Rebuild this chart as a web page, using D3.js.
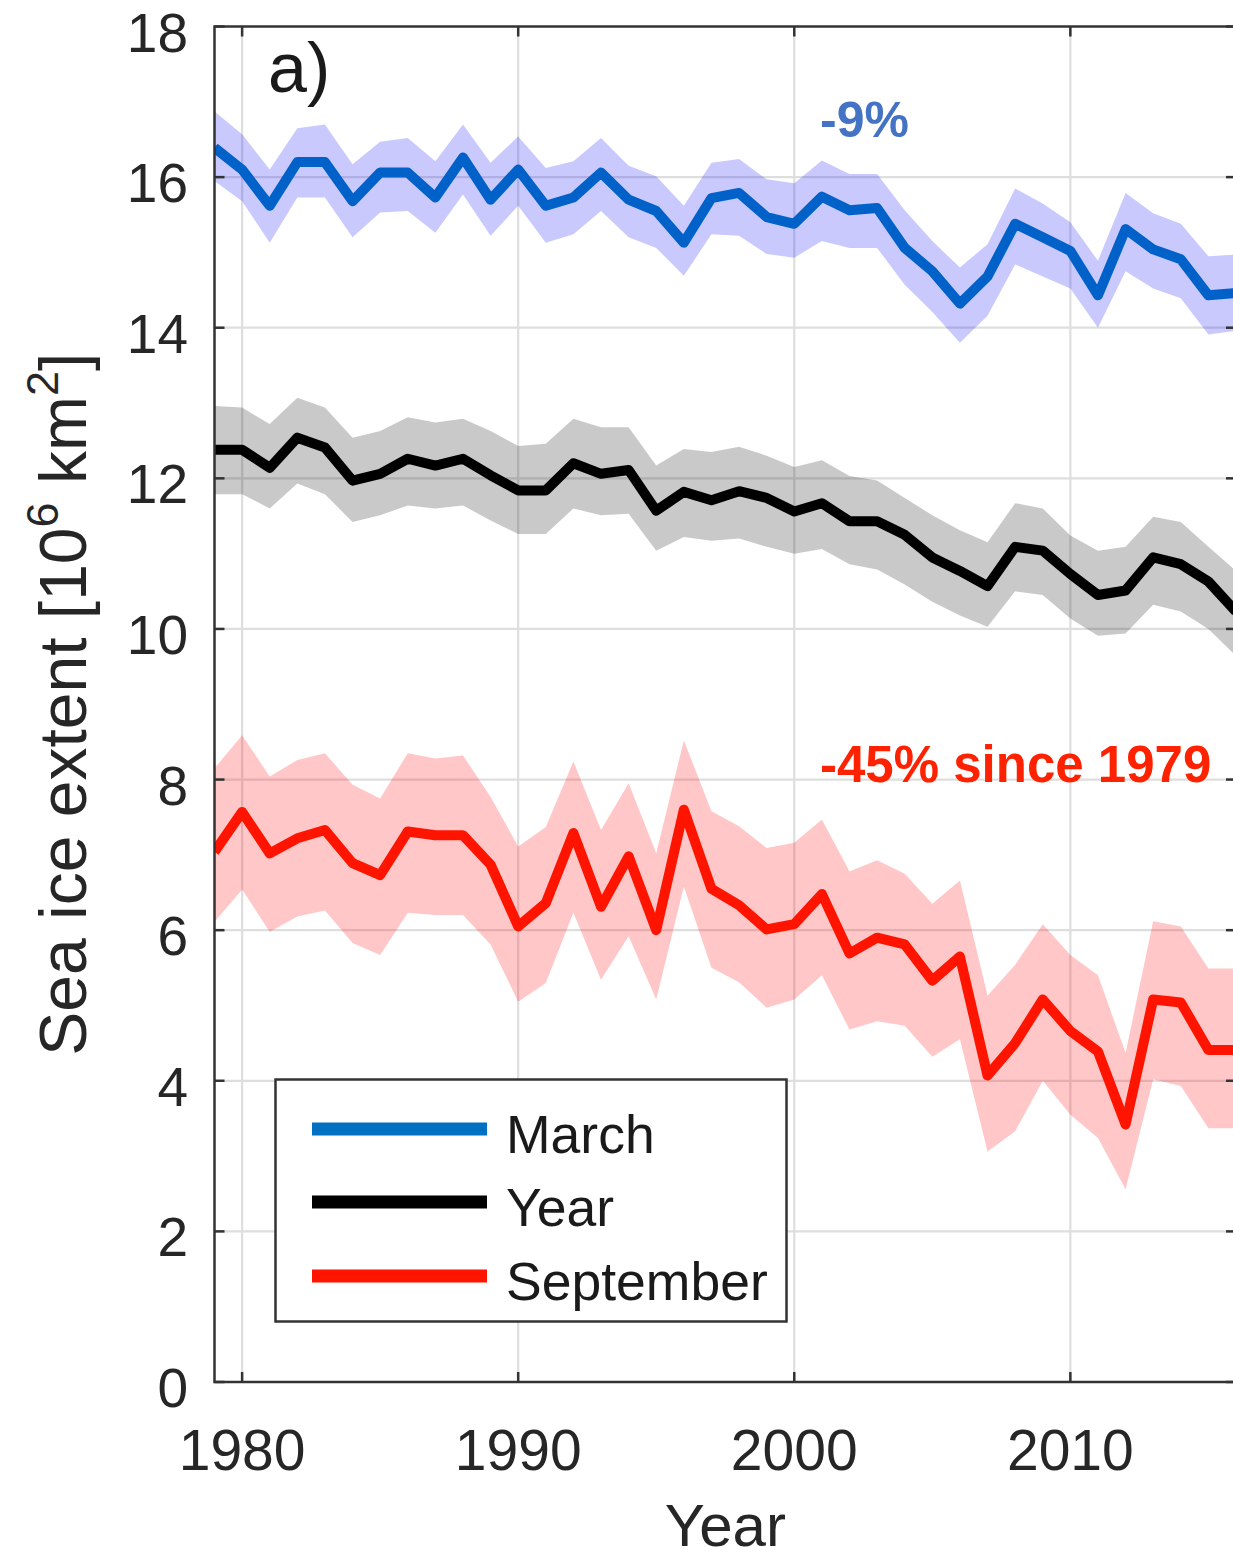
<!DOCTYPE html>
<html>
<head>
<meta charset="utf-8">
<script src="https://cdn.jsdelivr.net/npm/d3@7"></script>
<style>
  html, body { margin: 0; padding: 0; background: #fff; }
  svg { display: block; font-family: "Liberation Sans", Arial, Helvetica, sans-serif; }
</style>
</head>
<body>
<svg id="chart" width="1233" height="1559"></svg>
<script>
// Arctic sea ice extent, 1979-2016 (10^6 km^2), with uncertainty envelopes
const years = [1979,1980,1981,1982,1983,1984,1985,1986,1987,1988,1989,1990,1991,1992,1993,1994,1995,1996,1997,
               1998,1999,2000,2001,2002,2003,2004,2005,2006,2007,2008,2009,2010,2011,2012,2013,2014,2015,2016];

const march   = [16.39,16.10,15.62,16.20,16.20,15.68,16.06,16.06,15.73,16.26,15.70,16.10,15.62,15.73,16.06,15.70,15.55,15.13,15.72,
                 15.79,15.47,15.38,15.74,15.56,15.59,15.06,14.75,14.32,14.68,15.38,15.20,15.02,14.43,15.31,15.04,14.91,14.43,14.46];
const marchHi = [16.87,16.57,16.10,16.65,16.70,16.17,16.47,16.52,16.21,16.70,16.19,16.54,16.12,16.21,16.52,16.15,16.01,15.62,16.19,
                 16.24,15.97,15.92,16.22,16.04,16.04,15.56,15.15,14.80,15.11,15.85,15.65,15.40,14.89,15.79,15.52,15.38,14.95,14.97];
const marchLo = [15.95,15.68,15.13,15.73,15.73,15.20,15.53,15.55,15.26,15.77,15.22,15.62,15.13,15.24,15.55,15.20,15.06,14.69,15.24,
                 15.22,14.98,14.93,15.15,15.06,15.06,14.57,14.21,13.80,14.16,14.84,14.68,14.52,14.00,14.75,14.52,14.39,13.91,13.96];

const annual   = [12.38,12.38,12.14,12.54,12.41,11.97,12.06,12.26,12.17,12.26,12.04,11.84,11.84,12.20,12.06,12.11,11.57,11.82,11.71,
                  11.83,11.74,11.56,11.67,11.43,11.43,11.25,10.95,10.77,10.57,11.09,11.04,10.73,10.45,10.51,10.95,10.86,10.63,10.23];
const annualHi = [12.96,12.94,12.72,13.07,12.94,12.54,12.63,12.81,12.74,12.79,12.63,12.43,12.46,12.79,12.68,12.68,12.17,12.39,12.35,
                  12.42,12.30,12.15,12.24,12.03,11.97,11.74,11.51,11.31,11.15,11.67,11.60,11.24,11.04,11.09,11.49,11.42,11.09,10.77];
const annualLo = [11.79,11.79,11.60,11.93,11.79,11.42,11.51,11.64,11.60,11.64,11.44,11.26,11.26,11.60,11.51,11.53,11.04,11.22,11.17,
                  11.20,11.09,11.00,11.06,10.86,10.79,10.59,10.36,10.18,10.03,10.50,10.45,10.14,9.91,9.94,10.32,10.23,10.00,9.64];

const september   = [7.04,7.57,7.02,7.22,7.33,6.89,6.73,7.31,7.26,7.26,6.87,6.05,6.36,7.29,6.31,6.98,6.00,7.60,6.55,
                     6.33,6.01,6.08,6.48,5.69,5.90,5.81,5.33,5.65,4.07,4.50,5.08,4.66,4.39,3.42,5.08,5.04,4.41,4.41];
const septemberHi = [8.15,8.59,8.04,8.26,8.35,7.93,7.75,8.35,8.28,8.32,7.77,7.11,7.37,8.24,7.33,7.95,7.02,8.52,7.58,
                     7.38,7.09,7.16,7.47,6.78,6.93,6.75,6.35,6.66,5.13,5.54,6.08,5.67,5.40,4.37,6.12,6.05,5.49,5.49];
const septemberLo = [6.11,6.54,5.98,6.18,6.26,5.83,5.67,6.23,6.20,6.20,5.81,5.05,5.30,6.23,5.34,5.92,5.08,6.58,5.50,
                     5.31,4.97,5.08,5.40,4.68,4.79,4.73,4.32,4.55,3.06,3.33,4.00,3.55,3.24,2.56,4.02,3.93,3.37,3.37];

const seriesNames = ["March", "Year", "September"];
const xTicks = [1980, 1990, 2000, 2010];
const yTicks = [0, 2, 4, 6, 8, 10, 12, 14, 16, 18];
const annotations = ["-9%", "-45% since 1979"];

// ---- layout ----
const plot = { left: 214.5, right: 1236, top: 26.5, bottom: 1382 };

const svg = d3.select("#chart");
svg.append("rect").attr("width", 1233).attr("height", 1559).attr("fill", "#fff");

const x = d3.scaleLinear().domain([1979, 2016]).range([plot.left, plot.right]);
const y = d3.scaleLinear().domain([0, 18]).range([plot.bottom, plot.top]);

const series = [
  { name: seriesNames[0], mid: march,     hi: marchHi,     lo: marchLo,     line: "#0061c9", band: "rgba(0,0,245,0.21)" },
  { name: seriesNames[1], mid: annual,    hi: annualHi,    lo: annualLo,    line: "#000000", band: "rgba(0,0,0,0.21)" },
  { name: seriesNames[2], mid: september, hi: septemberHi, lo: septemberLo, line: "#ff1400", band: "rgba(255,0,0,0.22)" }
];

svg.append("defs").append("clipPath").attr("id", "plotClip")
  .append("rect")
  .attr("x", plot.left).attr("y", plot.top)
  .attr("width", plot.right - plot.left).attr("height", plot.bottom - plot.top);

// grid
const grid = svg.append("g").attr("stroke", "#dedede").attr("stroke-width", 2.2);
grid.selectAll("line.h").data(yTicks.filter(v => v > 0 && v < 18)).join("line")
  .attr("x1", plot.left).attr("x2", plot.right)
  .attr("y1", d => y(d)).attr("y2", d => y(d));
grid.selectAll("line.v").data(xTicks).join("line")
  .attr("y1", plot.top).attr("y2", plot.bottom)
  .attr("x1", d => x(d)).attr("x2", d => x(d));

// envelopes and lines
const dataArea = svg.append("g").attr("clip-path", "url(#plotClip)");

series.forEach(s => {
  const rows = years.map((yr, i) => ({ yr, mid: s.mid[i], hi: s.hi[i], lo: s.lo[i] }));
  const area = d3.area().x(d => x(d.yr)).y0(d => y(d.lo)).y1(d => y(d.hi));
  dataArea.append("path").datum(rows).attr("d", area).attr("fill", s.band).attr("stroke", "none");
});
series.forEach(s => {
  const rows = years.map((yr, i) => ({ yr, mid: s.mid[i] }));
  const line = d3.line().x(d => x(d.yr)).y(d => y(d.mid));
  dataArea.append("path").datum(rows).attr("d", line)
    .attr("fill", "none").attr("stroke", s.line).attr("stroke-width", 10)
    .attr("stroke-linejoin", "round").attr("stroke-linecap", "butt");
});

// axes box with inward ticks
const axisColor = "#333";
const tickLen = 10;
const axes = svg.append("g").attr("stroke", axisColor).attr("stroke-width", 2.5).attr("fill", "none");
axes.append("rect")
  .attr("x", plot.left).attr("y", plot.top)
  .attr("width", plot.right - plot.left).attr("height", plot.bottom - plot.top);
axes.selectAll("line.yl").data(yTicks).join("line")
  .attr("x1", plot.left).attr("x2", plot.left + tickLen)
  .attr("y1", d => y(d)).attr("y2", d => y(d));
axes.selectAll("line.yr").data(yTicks).join("line")
  .attr("x1", plot.right - tickLen).attr("x2", plot.right)
  .attr("y1", d => y(d)).attr("y2", d => y(d));
axes.selectAll("line.xb").data(xTicks).join("line")
  .attr("x1", d => x(d)).attr("x2", d => x(d))
  .attr("y1", plot.bottom - tickLen).attr("y2", plot.bottom);
axes.selectAll("line.xt").data(xTicks).join("line")
  .attr("x1", d => x(d)).attr("x2", d => x(d))
  .attr("y1", plot.top).attr("y2", plot.top + tickLen);

// tick labels
svg.append("g").selectAll("text").data(yTicks).join("text")
  .attr("x", 188).attr("y", d => y(d) + 25)
  .attr("text-anchor", "end").attr("font-size", 55).attr("fill", "#262626")
  .text(d => d);
svg.append("g").selectAll("text").data(xTicks).join("text")
  .attr("x", d => x(d)).attr("y", 1470)
  .attr("text-anchor", "middle").attr("font-size", 57).attr("fill", "#262626")
  .text(d => d);

// axis titles
svg.append("text")
  .attr("x", (plot.left + plot.right) / 2).attr("y", 1546)
  .attr("text-anchor", "middle").attr("font-size", 60).attr("fill", "#262626")
  .text("Year");

const yTitle = svg.append("text")
  .attr("transform", `translate(86,${(plot.top + plot.bottom) / 2}) rotate(-90)`)
  .attr("text-anchor", "middle").attr("font-size", 66).attr("fill", "#262626");
yTitle.append("tspan").text("Sea ice extent [10");
yTitle.append("tspan").attr("font-size", 45).attr("dy", -28).text("6");
yTitle.append("tspan").attr("dy", 28).text(" km");
yTitle.append("tspan").attr("font-size", 45).attr("dy", -28).text("2");
yTitle.append("tspan").attr("dy", 28).text("]");

// panel letter
svg.append("text").attr("x", 268).attr("y", 92)
  .attr("font-size", 70).attr("fill", "#1a1a1a").text("a)");

// change annotations
svg.append("text").attr("x", 820).attr("y", 137)
  .attr("font-size", 50).attr("font-weight", "bold").attr("fill", "#4472c4")
  .text(annotations[0]);
svg.append("text").attr("x", 820).attr("y", 782)
  .attr("font-size", 51).attr("font-weight", "bold").attr("fill", "#ff2200")
  .text(annotations[1]);

// legend
const legend = svg.append("g");
legend.append("rect")
  .attr("x", 275.5).attr("y", 1079.5).attr("width", 511).attr("height", 242)
  .attr("fill", "#fff").attr("stroke", axisColor).attr("stroke-width", 2.5);
const legendRowY = [1129, 1202, 1276];
const legendColors = ["#0070c0", "#000000", "#ff1400"];
series.forEach((s, i) => {
  legend.append("line")
    .attr("x1", 312).attr("x2", 487)
    .attr("y1", legendRowY[i]).attr("y2", legendRowY[i])
    .attr("stroke", legendColors[i]).attr("stroke-width", 13);
  legend.append("text")
    .attr("x", 506).attr("y", legendRowY[i] + 24)
    .attr("font-size", 53.5).attr("fill", "#1a1a1a")
    .text(s.name);
});
</script>
</body>
</html>
